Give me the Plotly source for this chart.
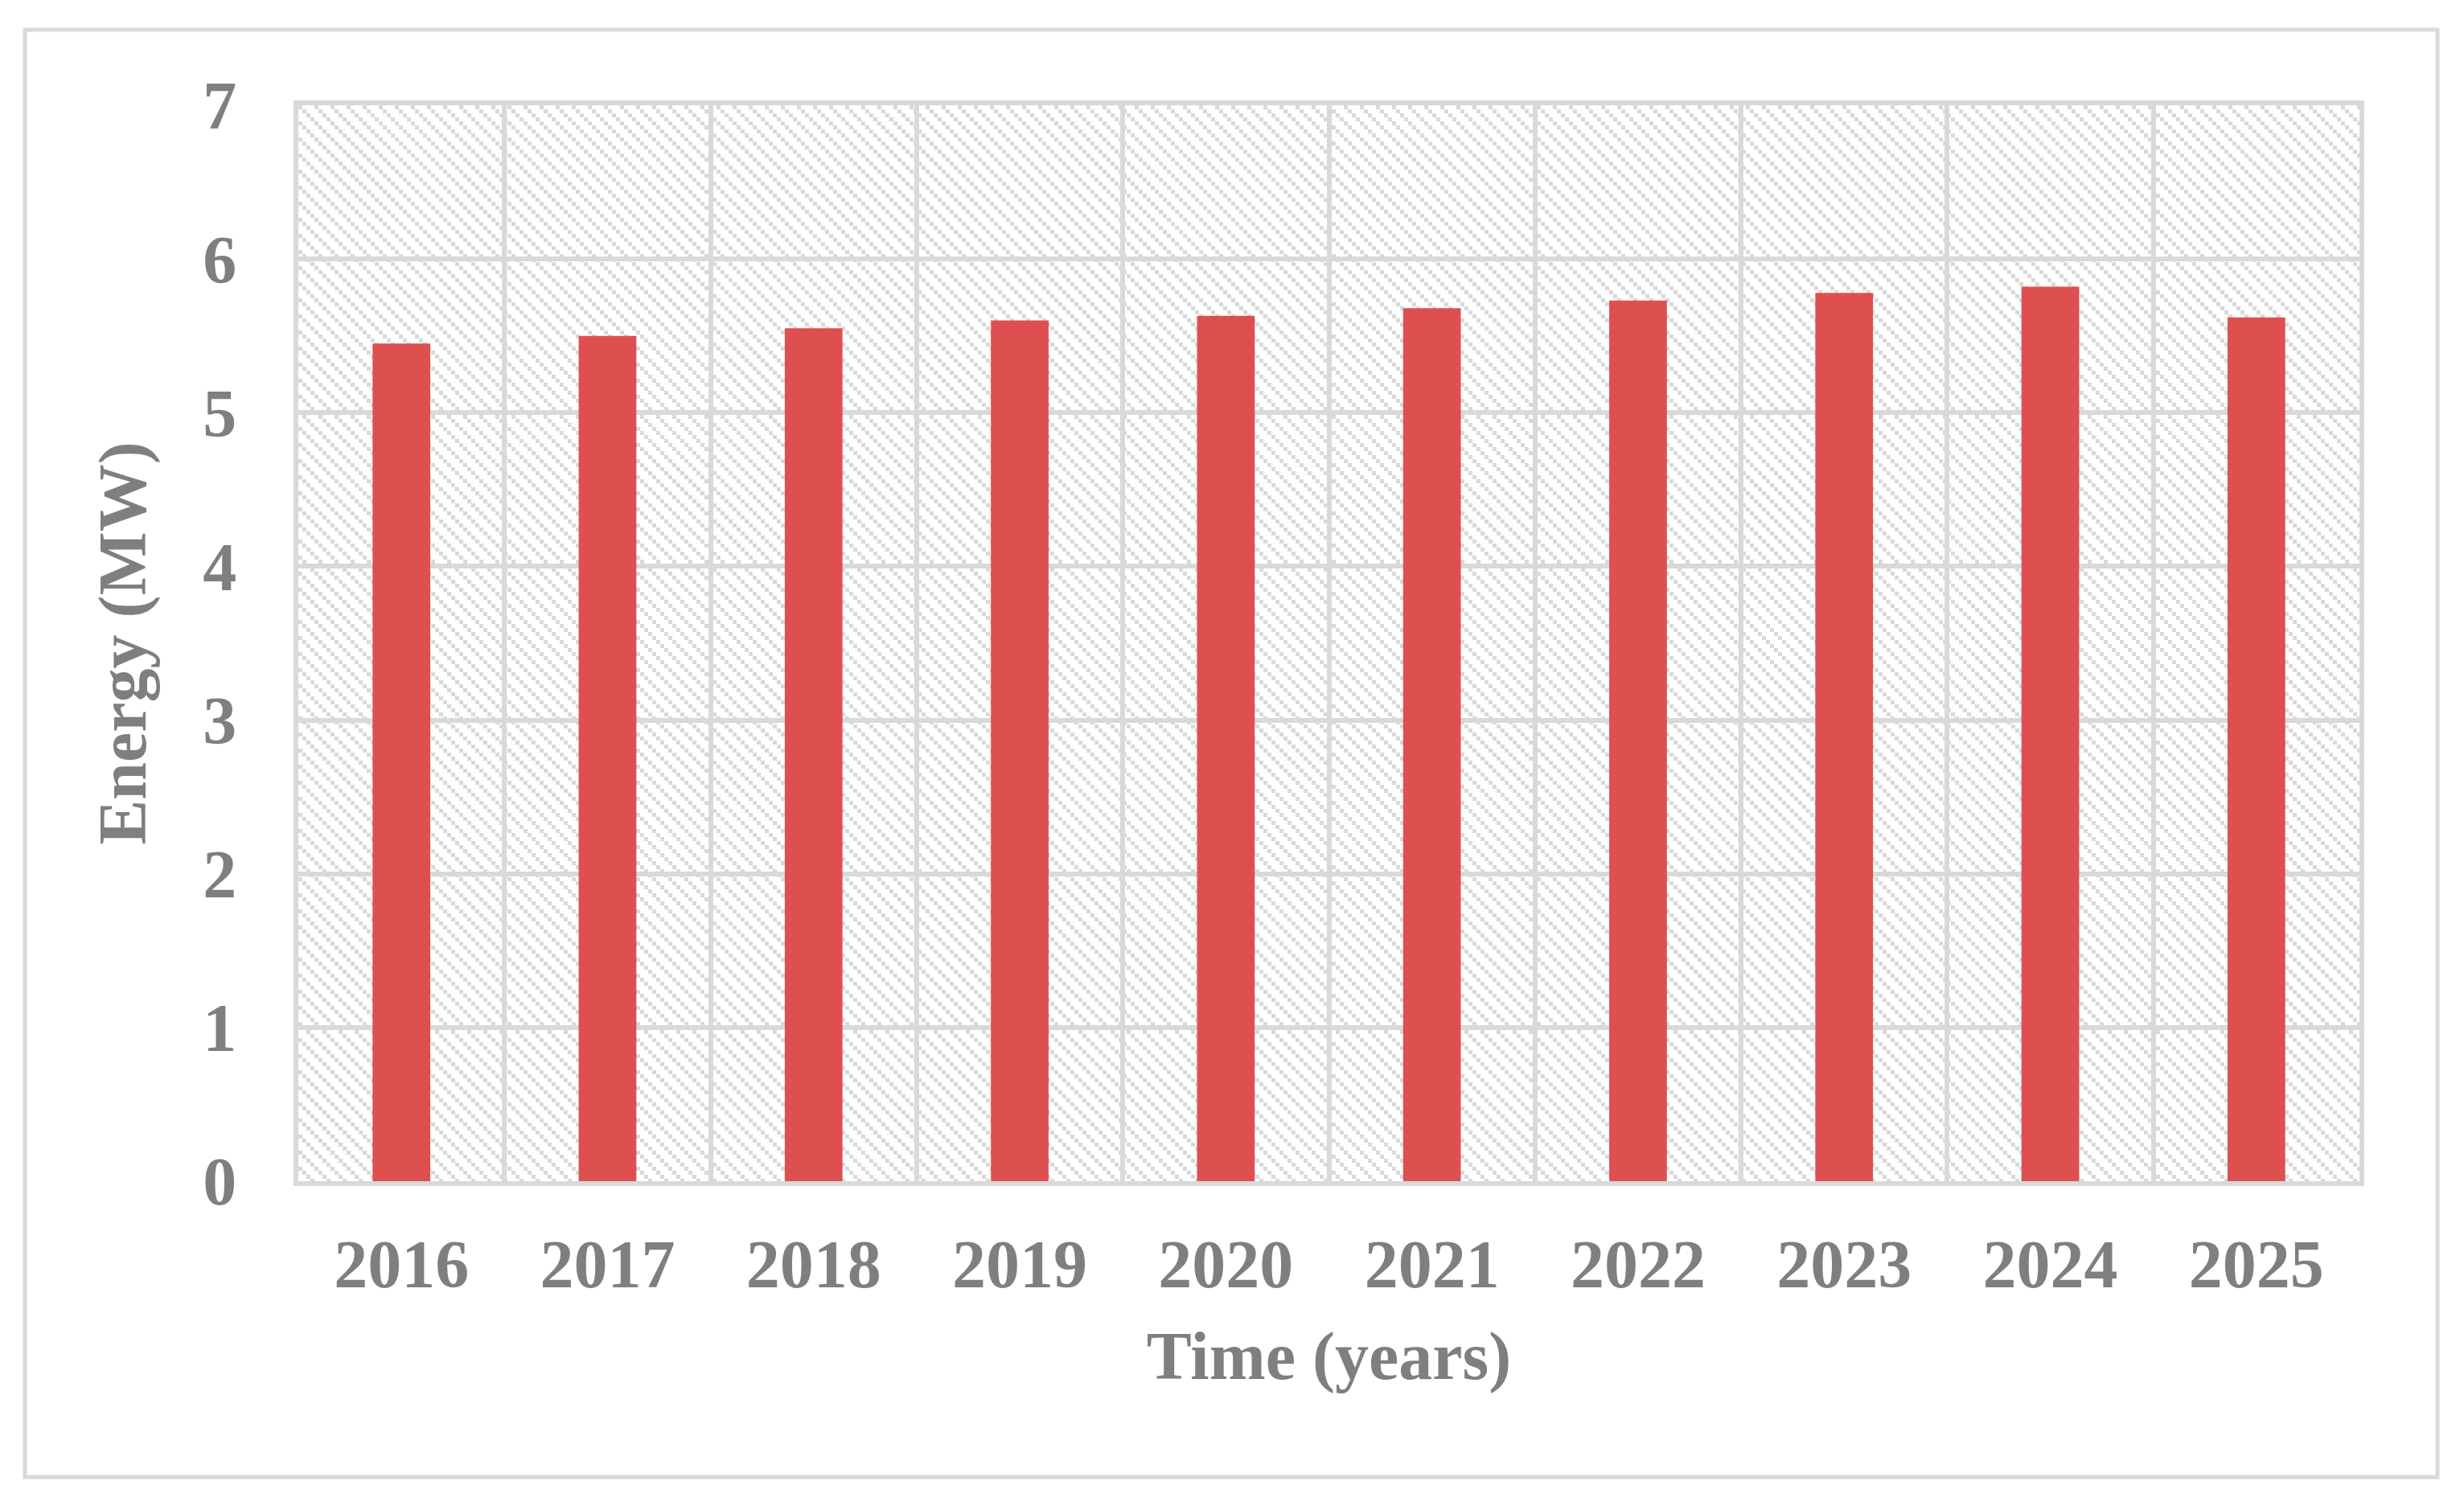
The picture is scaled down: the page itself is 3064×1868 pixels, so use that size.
import base64
import plotly.graph_objects as go

# ---- data ----
years = ["2016", "2017", "2018", "2019", "2020", "2021", "2022", "2023", "2024", "2025"]
energy_mw = [5.45, 5.50, 5.55, 5.60, 5.63, 5.68, 5.73, 5.78, 5.82, 5.62]
y_ticks = [0, 1, 2, 3, 4, 5, 6, 7]

# ---- geometry / style ----
# the page body has an 8px default margin, so the figure is sized/placed to compensate
PAGE = 8
W, H = 3064 - 2 * PAGE, 1868 - 2 * PAGE
ML, MR, MT, MB = 363, 122, 123, 391
PW, PH = W - ML - MR, H - MT - MB
GRID = "#d9d9d9"
TEXT = "#7f7f7f"
BAR = "#de5050"
FONT = "Liberation Serif, Times New Roman, serif"

# hatch background tile (dotted downward diagonal)
tile = 20
sq = 5
squares = "".join(
    f"<rect x='{i*sq}' y='{i*sq}' width='{sq}' height='{sq}' fill='{GRID}'/>" for i in range(tile // sq)
)
svg = (
    f"<svg xmlns='http://www.w3.org/2000/svg' width='{PW}' height='{PH}' viewBox='0 0 {PW} {PH}'>"
    f"<defs><pattern id='p' width='{tile}' height='{tile}' patternUnits='userSpaceOnUse'>{squares}</pattern></defs>"
    f"<rect width='{PW}' height='{PH}' fill='white'/>"
    f"<rect width='{PW}' height='{PH}' fill='url(#p)'/></svg>"
)
svg_uri = "data:image/svg+xml;base64," + base64.b64encode(svg.encode()).decode()

fig = go.Figure()
fig.add_trace(
    go.Bar(
        x=years,
        y=energy_mw,
        marker=dict(color=BAR, line=dict(width=0)),
        hoverinfo="x+y",
    )
)

fig.add_layout_image(
    dict(
        source=svg_uri,
        xref="paper", yref="paper",
        x=0, y=1, sizex=1, sizey=1,
        xanchor="left", yanchor="top",
        sizing="stretch", layer="below",
    )
)


def px_to_paper_x(px):
    return (px - ML) / PW


def px_to_paper_y(py):
    return (H - MB - py) / PH


# outer chart border
fig.add_shape(
    type="rect", xref="paper", yref="paper",
    x0=px_to_paper_x(23), x1=px_to_paper_x(3023),
    y0=px_to_paper_y(1829), y1=px_to_paper_y(29),
    line=dict(color=GRID, width=5), fillcolor="rgba(0,0,0,0)", layer="below",
)

fig.update_layout(
    width=W, height=H,
    margin=dict(l=ML, r=MR, t=MT, b=MB, autoexpand=False),
    paper_bgcolor="white",
    plot_bgcolor="white",
    bargap=0.72,
    showlegend=False,
    font=dict(family=FONT, color=TEXT, size=84),
    xaxis=dict(
        type="category",
        tickson="boundaries",
        showgrid=True, gridcolor=GRID, gridwidth=6,
        showline=True, linecolor=GRID, linewidth=6, mirror=True,
        ticks="", ticklabelstandoff=25,
        tickfont=dict(family=FONT, size=84, color=TEXT, weight="bold"),
        title=dict(text="<b>Time (years)</b>", standoff=40,
                   font=dict(family=FONT, size=84, color=TEXT)),
    ),
    yaxis=dict(
        range=[0, 7],
        tickvals=y_ticks,
        showgrid=True, gridcolor=GRID, gridwidth=6,
        zeroline=False,
        showline=True, linecolor=GRID, linewidth=6, mirror=True,
        ticks="", ticklabelstandoff=54,
        tickfont=dict(family=FONT, size=84, color=TEXT, weight="bold"),
        title=dict(text="<b>Energy (MW)</b>", standoff=45,
                   font=dict(family=FONT, size=84, color=TEXT)),
    ),
)

fig.write_html("out.html")
